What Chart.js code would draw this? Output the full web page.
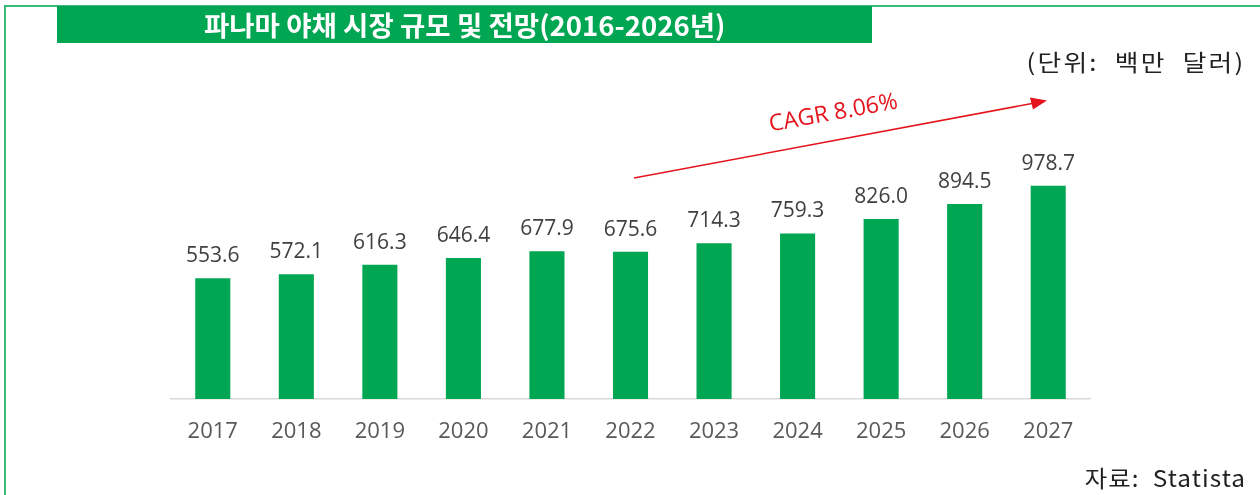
<!DOCTYPE html>
<html>
<head>
<meta charset="utf-8">
<script src="https://cdn.jsdelivr.net/npm/chart.js@4.4.1/dist/chart.umd.min.js"></script>
<style>
  html, body { margin: 0; padding: 0; background: #fff; }
  #wrap { position: relative; width: 1260px; height: 495px; overflow: hidden; background: #fff; }
  #frameTop { position: absolute; left: 4px; top: 5px; width: 1256px; height: 2px; background: #3dba78; }
  #frameLeft { position: absolute; left: 4px; top: 5px; width: 2px; height: 490px; background: #3dba78; }
  #titleBox { position: absolute; left: 57px; top: 6px; width: 815px; height: 37px; background: #00a651; }
  #titleText { position: absolute; left: 0; top: 0; width: 815px; height: 37px; line-height: 37px; text-align: center;
    color: #fff; font-family: "Noto Sans CJK KR", sans-serif; font-weight: bold; font-size: 27px; white-space: nowrap; }
  #titleText span { display: inline-block; transform: scaleX(1.02); transform-origin: center; }
  #unit { position: absolute; right: 14px; top: 44px; font-family: "Noto Sans CJK KR", sans-serif; font-size: 23px; color: #222; white-space: pre; letter-spacing: 2px;
    transform: scaleX(1.12); transform-origin: right center; }
  #source { position: absolute; right: 14px; top: 460px; font-family: "Noto Sans CJK KR", sans-serif; font-size: 23px; color: #222; white-space: pre; letter-spacing: 1px;
    transform: scaleX(1.06); transform-origin: right center; }
  #cagr { position: absolute; left: 833px; top: 111px; transform: translate(-50%, -50%) rotate(-10.3deg);
    font-family: "Open Sans", sans-serif; font-size: 23px; color: #e5141c; white-space: nowrap; }
  #arrow { position: absolute; left: 0; top: 0; }
  canvas { position: absolute; left: 0; top: 0; }
</style>
</head>
<body>
<div id="wrap">
  <canvas id="chart" width="1260" height="495"></canvas>
  <div id="frameTop"></div>
  <div id="frameLeft"></div>
  <div id="titleBox"><div id="titleText"><span>파나마 야채 시장 규모 및 전망(2016-2026년)</span></div></div>
  <div id="unit">(단위:  백만  달러)</div>
  <svg id="arrow" width="1260" height="495">
    <line x1="634" y1="178" x2="1032" y2="103.5" stroke="#e5141c" stroke-width="1.5"/>
    <polygon points="1047,100.5 1030,97.5 1033,109.5" fill="#e5141c"/>
  </svg>
  <div id="cagr">CAGR 8.06%</div>
  <div id="source">자료:  Statista</div>
</div>
<script>
const years = ["2017","2018","2019","2020","2021","2022","2023","2024","2025","2026","2027"];
const marketSize = [553.6, 572.1, 616.3, 646.4, 677.9, 675.6, 714.3, 759.3, 826.0, 894.5, 978.7];
const valueLabels = ["553.6","572.1","616.3","646.4","677.9","675.6","714.3","759.3","826.0","894.5","978.7"];

const valueLabelPlugin = {
  id: 'valueLabels',
  afterDatasetsDraw(chart) {
    const ctx = chart.ctx;
    const meta = chart.getDatasetMeta(0);
    ctx.save();
    ctx.font = '21px "Open Sans", sans-serif';
    ctx.fillStyle = '#404040';
    ctx.textAlign = 'center';
    ctx.textBaseline = 'alphabetic';
    meta.data.forEach((bar, i) => {
      ctx.fillText(valueLabels[i], bar.x, bar.y - 16);
    });
    ctx.restore();
  }
};

new Chart(document.getElementById('chart'), {
  type: 'bar',
  data: {
    labels: years,
    datasets: [{
      data: marketSize,
      backgroundColor: '#00a651',
      borderWidth: 0,
      barPercentage: 0.42,
      categoryPercentage: 1.0
    }]
  },
  options: {
    responsive: false,
    animation: false,
    events: [],
    layout: { padding: { left: 171, right: 170, top: 181, bottom: 0 } },
    plugins: { legend: { display: false }, tooltip: { enabled: false } },
    scales: {
      x: {
        grid: { display: false, drawTicks: false },
        border: { display: true, color: '#d9d9d9', width: 1.5 },
        ticks: { color: '#595959', font: { family: '"Open Sans", sans-serif', size: 22 }, padding: 20 },
        afterFit(scale) { scale.height = 96; }
      },
      y: { display: false, min: 0, max: 1000 }
    }
  },
  plugins: [valueLabelPlugin]
});
</script>
</body>
</html>
